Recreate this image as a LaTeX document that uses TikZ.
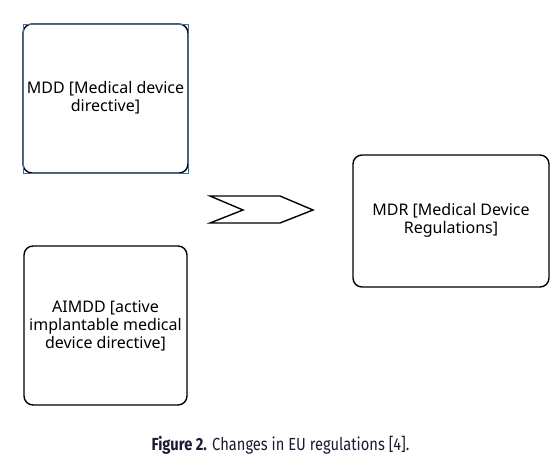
\documentclass[tikz,border=0pt]{standalone}
\usepackage{fontspec}
\setmainfont{Noto Sans}
\newfontfamily\capfont[FakeStretch=0.84]{Fira Sans}
\definecolor{selblue}{HTML}{3A6EA5}
\definecolor{captxt}{HTML}{1A1A33}
\begin{document}
\begin{tikzpicture}[x=1pt,y=-1pt,
  box/.style={draw=black,line width=1.4pt,rounded corners=9pt,fill=white},
  boxtext/.style={align=center,font=\fontsize{16}{18}\selectfont,text=black,inner sep=0pt}]
\useasboundingbox (0,0) rectangle (560,461);
% boxes
\draw[box] (23,24) rectangle (188,173);
\draw[draw=selblue,line width=1pt] (23,24) rectangle (188,173);
\node[boxtext] (mdd) at (105.5,98) {MDD [Medical device\\directive]};
\draw[box] (353,155) rectangle (549,287);
\node[boxtext] (mdr) at (451,220) {MDR [Medical Device\\Regulations]};
\draw[box] (24,246) rectangle (187,405);
\node[boxtext] (aimdd) at (105.5,326) {AIMDD [active\\implantable medical\\device directive]};
% chevron arrow
\draw[line width=1.4pt,line join=miter,fill=white] (210,196) -- (280,196) -- (313,210) -- (280,223) -- (210,223) -- (243,210) -- cycle;
% caption
\node[font=\capfont\fontsize{17.5}{19}\selectfont,text=captxt,inner sep=0pt] (cap) at (280.5,445) {\textbf{Figure 2.} Changes in EU regulations [4].};
\end{tikzpicture}
\end{document}
